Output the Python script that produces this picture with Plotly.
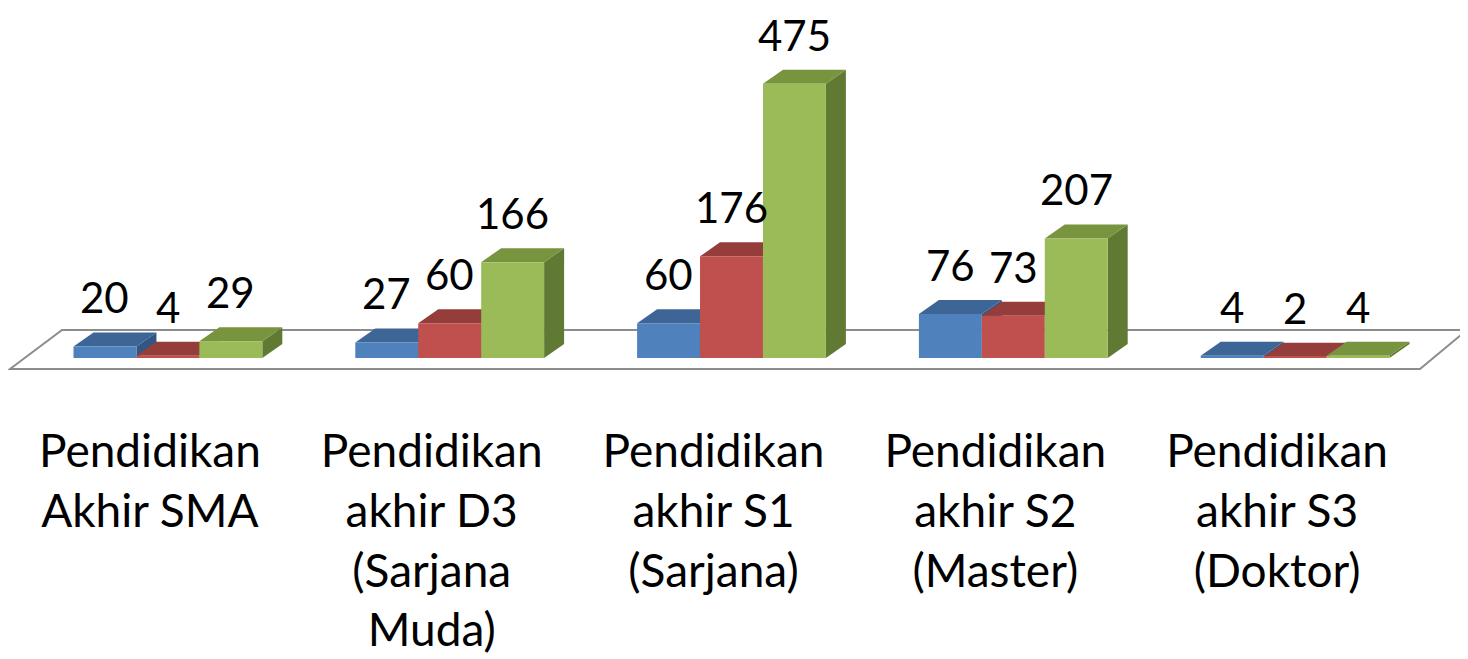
import plotly.graph_objects as go

# ---------------- data ----------------
categories = [
    "Pendidikan<br>Akhir SMA",
    "Pendidikan<br>akhir D3<br>(Sarjana<br>Muda)",
    "Pendidikan<br>akhir S1<br>(Sarjana)",
    "Pendidikan<br>akhir S2<br>(Master)",
    "Pendidikan<br>akhir S3<br>(Doktor)",
]
series_names = ["Seri 1", "Seri 2", "Seri 3"]
blue_values = [20, 27, 60, 76, 4]
red_values = [4, 60, 176, 73, 2]
green_values = [29, 166, 475, 207, 4]

# ---------------- style ----------------
front_colors = ["#4F81BD", "#C0504D", "#9BBB59"]
top_colors = ["#3D6696", "#953D3A", "#78943E"]
side_colors = ["#325683", "#7E3330", "#617A33"]
FONT = "Lato, Carlito, 'Open Sans', sans-serif"

PAGE_OFF = 8  # default body margin of the html page
W, H = 1468, 659
ML, MR, MT, MB = 27 - PAGE_OFF, 32 + PAGE_OFF, 30 - PAGE_OFF, 301 + PAGE_OFF
plot_w = W - ML - MR
plot_h = H - MT - MB
YMAX = 568
BARGAP = 0.33
DX, DY = 20, 14  # depth offset in pixels

all_series = [blue_values, red_values, green_values]
n = len(categories)
ppu = plot_h / YMAX
bw = (1 - BARGAP) / 3
bw_px = bw * plot_w / n

fig = go.Figure()
for k, vals in enumerate(all_series):
    fig.add_trace(go.Bar(
        x=list(range(n)), y=vals, name=series_names[k],
        marker=dict(color=front_colors[k], line=dict(width=0)),
        hoverinfo="y",
    ))

shapes = []
# floor (decorative plane), defined in page pixels and converted to paper units
floor_px = [(10, 369), (62, 330), (1467, 330), (1420, 369)]
def to_paper(px, py):
    return (px - PAGE_OFF - ML) / plot_w, (H - MB - (py - PAGE_OFF)) / plot_h
pts = [to_paper(*p) for p in floor_px]
path = "M" + " L".join(f"{x:.5f},{y:.5f}" for x, y in pts) + " Z"
shapes.append(dict(type="path", xref="paper", yref="paper", path=path,
                   fillcolor="white", line=dict(color="#8C8C8C", width=2), layer="below"))

annotations = []
for i in range(n):
    for k, vals in enumerate(all_series):
        v = vals[i]
        left = i - (1 - BARGAP) / 2 + k * bw
        right = left + bw
        h = v * ppu
        # side face
        shapes.append(dict(
            type="path", xref="x", yref="y", xsizemode="pixel", ysizemode="pixel",
            xanchor=right, yanchor=0,
            path=f"M0,0 L{DX},{DY} L{DX},{DY + h:.2f} L0,{h:.2f} Z",
            fillcolor=side_colors[k], line=dict(width=0), layer="below"))
        # top face
        shapes.append(dict(
            type="path", xref="x", yref="y", xsizemode="pixel", ysizemode="pixel",
            xanchor=left, yanchor=v,
            path=f"M0,0 L{bw_px:.2f},0 L{bw_px + DX:.2f},{DY} L{DX},{DY} Z",
            fillcolor=top_colors[k], line=dict(width=0), layer="below"))
        annotations.append(dict(
            x=left + bw / 2, y=v, xref="x", yref="y", text=str(v),
            showarrow=False, yanchor="middle", yshift=49,
            font=dict(family=FONT, size=42, color="#000000")))

fig.update_layout(
    width=W, height=H,
    margin=dict(l=ML, r=MR, t=MT, b=MB, pad=0),
    paper_bgcolor="white", plot_bgcolor="rgba(0,0,0,0)",
    barmode="group", bargap=BARGAP, bargroupgap=0,
    showlegend=False,
    shapes=shapes, annotations=annotations,
    xaxis=dict(
        tickmode="array", tickvals=list(range(n)), ticktext=categories,
        range=[-0.5, n - 0.5], showgrid=False, zeroline=False, showline=False,
        ticks="", ticklabelstandoff=62, ticklabelshift=-18,
        tickfont=dict(family=FONT, size=46, color="#000000"),
    ),
    yaxis=dict(range=[0, YMAX], visible=False, showgrid=False, zeroline=False),
)

fig.write_html("out.html")
